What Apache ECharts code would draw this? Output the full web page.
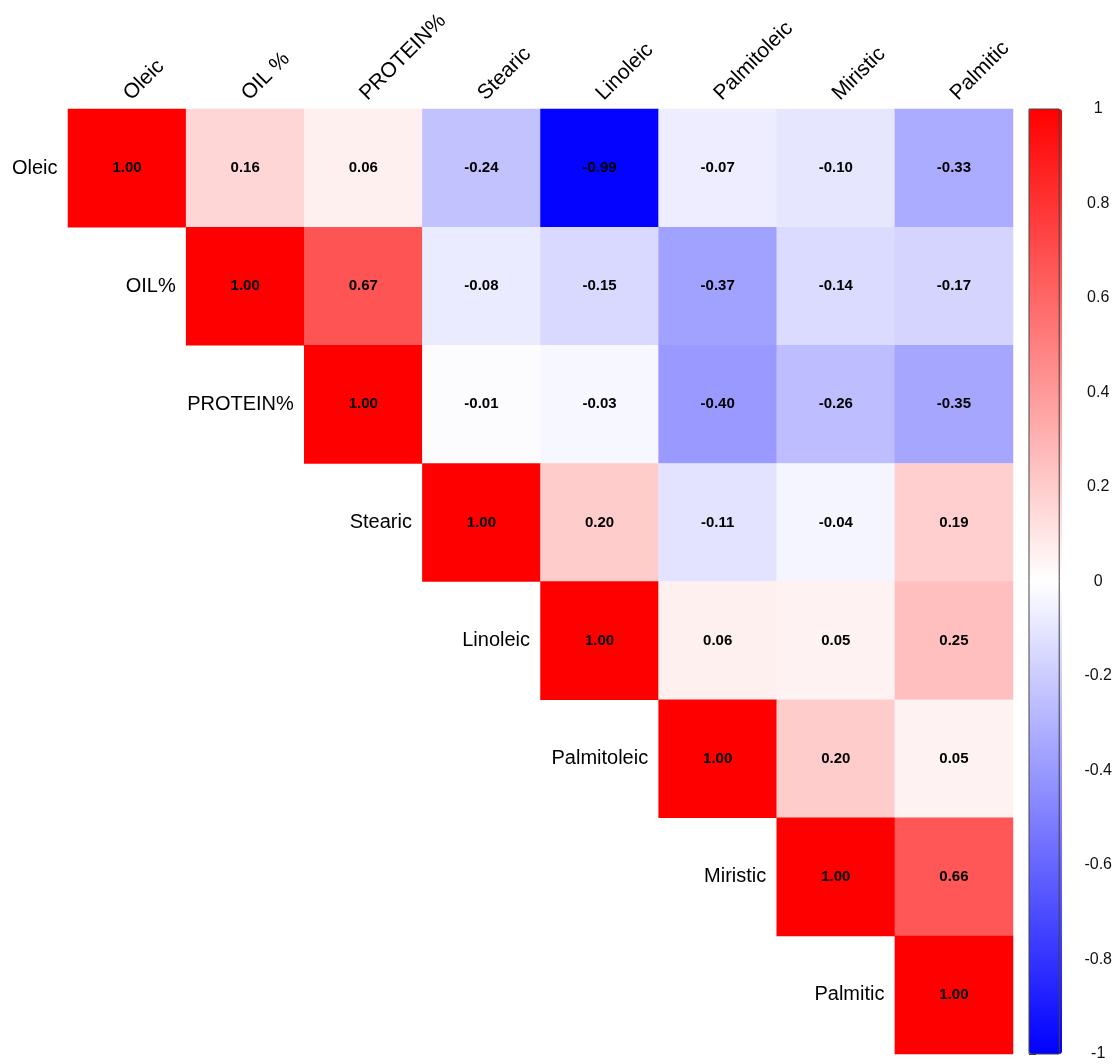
<!DOCTYPE html>
<html>
<head>
<meta charset="utf-8">
<script src="https://cdn.jsdelivr.net/npm/echarts@6/dist/echarts.min.js"></script>
<style>
  html, body { margin: 0; padding: 0; background: #fff; }
  #chart { width: 1115px; height: 1064px; }
</style>
</head>
<body>
<div id="chart"></div>
<script>
// Trait names along the top (columns) and beside the diagonal (rows)
const columnLabels = ['Oleic', 'OIL %', 'PROTEIN%', 'Stearic', 'Linoleic', 'Palmitoleic', 'Miristic', 'Palmitic'];
const rowLabels = ['Oleic', 'OIL%', 'PROTEIN%', 'Stearic', 'Linoleic', 'Palmitoleic', 'Miristic', 'Palmitic'];

// Upper-triangle correlation coefficients, each row starting at its diagonal
const rowOleic = [1.00, 0.16, 0.06, -0.24, -0.99, -0.07, -0.10, -0.33];
const rowOil = [1.00, 0.67, -0.08, -0.15, -0.37, -0.14, -0.17];
const rowProtein = [1.00, -0.01, -0.03, -0.40, -0.26, -0.35];
const rowStearic = [1.00, 0.20, -0.11, -0.04, 0.19];
const rowLinoleic = [1.00, 0.06, 0.05, 0.25];
const rowPalmitoleic = [1.00, 0.20, 0.05];
const rowMiristic = [1.00, 0.66];
const rowPalmitic = [1.00];

// Colour-bar tick range
const scaleMin = -1;
const scaleMax = 1;
const scaleStep = 0.2;

const rows = [rowOleic, rowOil, rowProtein, rowStearic, rowLinoleic, rowPalmitoleic, rowMiristic, rowPalmitic];
const cells = [];
rows.forEach((vals, r) => {
  vals.forEach((v, k) => cells.push([r + k, r, v]));
});
const diagonal = rowLabels.map((_, i) => [i, i]);

const FONT = '"Liberation Sans", Arial, Helvetica, sans-serif';

const chart = echarts.init(document.getElementById('chart'));
chart.setOption({
  backgroundColor: '#ffffff',
  animation: false,
  grid: [
    { left: 68, top: 109, width: 945, height: 945 },
    { left: 1029, top: 109, width: 33, height: 945, show: true, z: 10,
      backgroundColor: 'transparent', borderColor: '#444', borderWidth: 1 }
  ],
  xAxis: [
    {
      type: 'category', gridIndex: 0, position: 'top', data: columnLabels,
      axisLine: { show: false }, axisTick: { show: false }, splitLine: { show: false },
      axisLabel: { interval: 0, rotate: -45, margin: 12, fontSize: 21, color: '#000', fontFamily: FONT }
    },
    { type: 'value', gridIndex: 1, show: false, min: 0, max: 1 }
  ],
  yAxis: [
    {
      type: 'category', gridIndex: 0, inverse: true, data: rowLabels,
      axisLine: { show: false }, axisTick: { show: false }, axisLabel: { show: false }, splitLine: { show: false }
    },
    {
      type: 'value', gridIndex: 1, position: 'right', min: scaleMin, max: scaleMax, interval: scaleStep,
      axisLine: { show: false }, splitLine: { show: false },
      axisTick: { show: true, length: 7, lineStyle: { color: '#333', width: 1 } },
      axisLabel: { margin: 39, align: 'center', padding: [4, 0, 0, 0], fontSize: 16, color: '#111', fontFamily: FONT }
    }
  ],
  visualMap: {
    type: 'continuous', min: scaleMin, max: scaleMax, seriesIndex: 0, calculable: false,
    orient: 'vertical', left: 1029, top: 109, itemWidth: 33, itemHeight: 945,
    padding: 0, text: null, hoverLink: false, z: 2,
    inRange: { color: ['#0000FF', '#FFFFFF', '#FF0000'] }
  },
  series: [
    {
      type: 'heatmap', xAxisIndex: 0, yAxisIndex: 0, data: cells,
      itemStyle: { borderWidth: 0 },
      label: {
        show: true, fontSize: 15, fontWeight: 'bold', color: '#000', fontFamily: FONT,
        formatter: p => p.value[2].toFixed(2)
      },
      emphasis: { disabled: true }
    },
    {
      type: 'scatter', xAxisIndex: 0, yAxisIndex: 0, data: diagonal,
      symbolSize: 1, itemStyle: { color: '#ffffff', opacity: 1 }, silent: true,
      label: {
        show: true, position: 'left', distance: 69, fontSize: 20, color: '#000', opacity: 1,
        fontFamily: FONT, formatter: p => rowLabels[p.dataIndex]
      },
      z: 1
    }
  ]
});
</script>
</body>
</html>
